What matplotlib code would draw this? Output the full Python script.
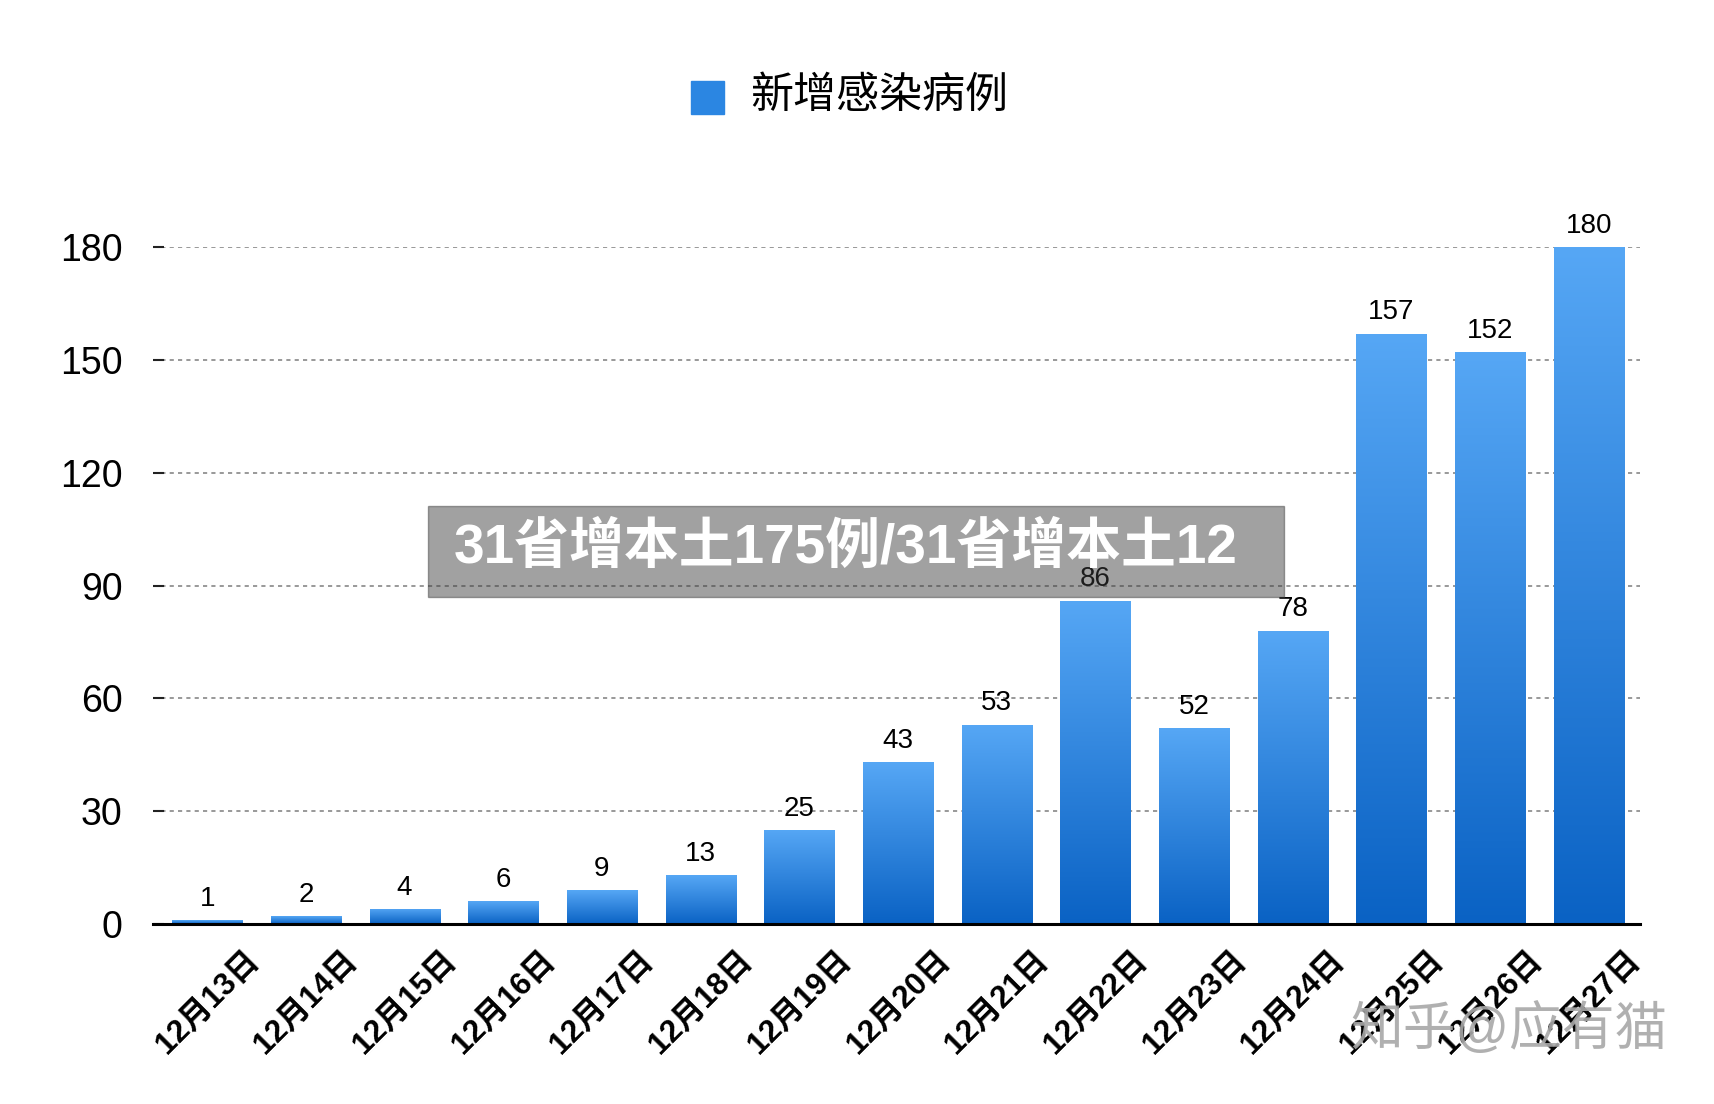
import numpy as np
import matplotlib
matplotlib.use("Agg")
import matplotlib.pyplot as plt
import matplotlib.transforms as mtransforms
from matplotlib.colors import LinearSegmentedColormap
from matplotlib.patches import Rectangle

dates = ["12月13日", "12月14日", "12月15日", "12月16日", "12月17日", "12月18日", "12月19日",
         "12月20日", "12月21日", "12月22日", "12月23日", "12月24日", "12月25日", "12月26日", "12月27日"]
cases = [1, 2, 4, 6, 9, 13, 25, 43, 53, 86, 52, 78, 157, 152, 180]
yticks = [0, 30, 60, 90, 120, 150, 180]

series_name = "新增感染病例"
banner_text = "31省增本土175例/31省增本土12"
watermark = "知乎@应有猫"

cjk = ["Liberation Sans", "Noto Sans CJK SC"]
plt.rcParams["font.family"] = cjk

top_c = "#56a7f5"
bot_c = "#0a62c4"
cmap = LinearSegmentedColormap.from_list("bar", [bot_c, top_c])

fig = plt.figure(figsize=(17.14, 11.04), dpi=100)
ax = fig.add_axes([153 / 1714, 1 - 924 / 1104, (1640 - 153) / 1714, (924 - 247) / 1104])

x = np.arange(len(cases))
bars = ax.bar(x, cases, width=0.71, color="none", edgecolor="none", zorder=3)
grad = np.linspace(0, 1, 256).reshape(-1, 1)
for b in bars:
    x0, w, h = b.get_x(), b.get_width(), b.get_height()
    im = ax.imshow(grad, cmap=cmap, origin="lower", aspect="auto",
                   extent=[x0, x0 + w, 0, h], zorder=3)
    im.set_clip_path(b)

ax.set_xlim(-0.55, len(cases) - 1 + 0.52)
ax.set_ylim(0, 180)

# gridlines
for v in yticks[1:]:
    ax.axhline(v, color="#888888", lw=1.2, ls=(0, (2.5, 2.5)), zorder=1)

for s in ["top", "right", "left"]:
    ax.spines[s].set_visible(False)
ax.spines["bottom"].set_linewidth(2.2)
ax.spines["bottom"].set_zorder(4)

ax.set_yticks(yticks)
ax.set_yticklabels([str(v) for v in yticks], fontsize=27)
ax.tick_params(axis="y", direction="in", length=8, width=1.5, pad=22, color="#222222")

ax.set_xticks(x)
ax.set_xticklabels(dates, rotation=45, ha="right", va="center",
                   rotation_mode="anchor", fontsize=22.5, fontweight="bold")
ax.tick_params(axis="x", length=0, pad=0)
offset = mtransforms.ScaledTranslation(47 / 100, -32 / 100, fig.dpi_scale_trans)
for lbl in ax.get_xticklabels():
    lbl.set_transform(lbl.get_transform() + offset)

for xi, v in zip(x, cases):
    ax.annotate(str(v), (xi, v), xytext=(0, 6), textcoords="offset points",
                ha="center", va="bottom", fontsize=20, zorder=5, clip_on=False)

# legend
fig.patches.append(Rectangle((691 / 1714, 1 - 114 / 1104), 33 / 1714, 33 / 1104,
                             transform=fig.transFigure, color="#2b86e2", zorder=5))
fig.text(750 / 1714, 1 - 97 / 1104, series_name, fontsize=31, va="center", ha="left")

# banner overlay
fig.patches.append(Rectangle((428 / 1714, 1 - 597 / 1104), (1284 - 428) / 1714, (597 - 506) / 1104,
                             transform=fig.transFigure, color="#3c3c3c", alpha=0.48, zorder=10))
fig.text(454 / 1714, 1 - 549 / 1104, banner_text, fontsize=39.5, fontweight="heavy",
         color="white", va="center", ha="left", zorder=11)

fig.text(1350 / 1714, 1 - 1030 / 1104, watermark, fontsize=38, color="#a8a8a8",
         alpha=0.9, va="center", ha="left", zorder=11)

fig.savefig("out.png", dpi=100)
